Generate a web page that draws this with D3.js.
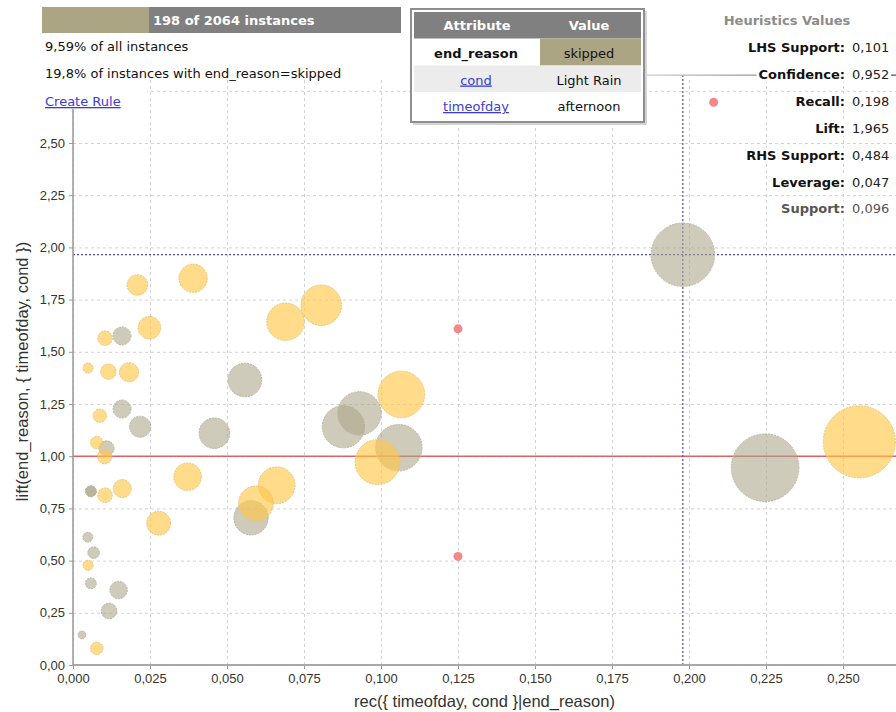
<!DOCTYPE html>
<html>
<head>
<meta charset="utf-8">
<script src="https://cdn.jsdelivr.net/npm/d3@7"></script>
<style>
  body { margin: 0; background: #fff; }
  svg { display: block; font-family: "Liberation Sans", Arial, sans-serif; }
  .ui { font-family: "DejaVu Sans", Verdana, sans-serif; }
  .grid line { stroke: #d2d2d2; stroke-dasharray: 3,3; }
  .grid path { display: none; }
  .axis text { fill: #333; font-size: 13px; }
  .axis line { stroke: #999; }
  .axis path { display: none; }
</style>
</head>
<body>
<svg id="chart" width="896" height="712"></svg>
<script>
// rules shown in yellow
const yellowRecall  = [0.0209, 0.0390, 0.0248, 0.0104, 0.0049, 0.0115, 0.0182, 0.0087, 0.0077, 0.0103, 0.0372, 0.0104,
                       0.0160, 0.0278, 0.0049, 0.0077, 0.0690, 0.0806, 0.1066, 0.0989, 0.0661, 0.0594, 0.2553];
const yellowLift    = [1.820, 1.852, 1.615, 1.565, 1.422, 1.405, 1.402, 1.194, 1.065, 0.998, 0.902, 0.813,
                       0.845, 0.679, 0.477, 0.080, 1.644, 1.723, 1.296, 0.972, 0.861, 0.774, 1.069];
const yellowSupport = [0.0101, 0.0189, 0.0120, 0.0050, 0.0024, 0.0056, 0.0088, 0.0042, 0.0037, 0.0050, 0.0180, 0.0050,
                       0.0077, 0.0135, 0.0024, 0.0037, 0.0334, 0.0390, 0.0516, 0.0479, 0.0320, 0.0287, 0.1236];

// rules shown in grey
const grayRecall  = [0.0159, 0.0159, 0.0218, 0.0109, 0.0058, 0.0058, 0.0048, 0.0067, 0.0058, 0.0148, 0.0117, 0.0029,
                     0.0558, 0.0459, 0.0878, 0.0930, 0.1058, 0.0578, 0.1980, 0.2247];
const grayLift    = [1.576, 1.226, 1.141, 1.038, 0.832, 0.832, 0.612, 0.538, 0.391, 0.359, 0.259, 0.144,
                     1.365, 1.110, 1.141, 1.205, 1.041, 0.705, 1.965, 0.945];
const graySupport = [0.0077, 0.0077, 0.0106, 0.0053, 0.0028, 0.0028, 0.0023, 0.0032, 0.0028, 0.0072, 0.0057, 0.0014,
                     0.0270, 0.0222, 0.0425, 0.0450, 0.0512, 0.0280, 0.0958, 0.1088];

// small red points
const redRecall = [0.125, 0.125, 0.208];
const redLift   = [1.610, 0.520, 2.695];

// selected rule (crosshair)
const selRecall = 0.198;
const selLift = 1.965;

const xTicks = [0, 0.025, 0.05, 0.075, 0.1, 0.125, 0.15, 0.175, 0.2, 0.225, 0.25];
const yTicks = [0, 0.25, 0.5, 0.75, 1, 1.25, 1.5, 1.75, 2, 2.25, 2.5];
const yGridTicks = [0, 0.25, 0.5, 0.75, 1, 1.25, 1.5, 1.75, 2, 2.25, 2.5, 2.75];

const heurLabels = ["LHS Support:", "Confidence:", "Recall:", "Lift:", "RHS Support:", "Leverage:", "Support:"];
const heurValues = ["0,101", "0,952", "0,198", "1,965", "0,484", "0,047", "0,096"];

const tableAttrs = ["end_reason", "cond", "timeofday"];
const tableVals  = ["skipped", "Light Rain", "afternoon"];

const instancesText = "198 of 2064 instances";
const infoLines = ["9,59% of all instances", "19,8% of instances with end_reason=skipped"];

const svg = d3.select("#chart");
const locale = d3.formatLocale({ decimal: ",", thousands: ".", grouping: [3], currency: ["", ""] });

const plotLeft = 73, plotRight = 896, plotTop = 78, plotBottom = 665;

const x = d3.scaleLinear().domain([0, 0.25]).range([plotLeft, 843]);
const y = d3.scaleLinear().domain([0, 2.5]).range([plotBottom, 143]);
const r = d3.scaleSqrt().domain([0, 0.0958]).range([0, 31.7]);

// grid
svg.append("g")
    .attr("class", "grid")
    .attr("transform", `translate(0,${plotBottom})`)
    .call(d3.axisBottom(x).tickValues(xTicks).tickSize(-(plotBottom - plotTop)).tickFormat(""));
svg.append("g")
    .attr("class", "grid")
    .attr("transform", `translate(${plotLeft},0)`)
    .call(d3.axisLeft(y).tickValues(yGridTicks).tickSize(-(plotRight - plotLeft)).tickFormat(""));

// lift = 1 reference line
svg.append("line")
    .attr("x1", plotLeft).attr("x2", plotRight)
    .attr("y1", y(1)).attr("y2", y(1))
    .attr("stroke", "#e06262").attr("stroke-width", 1.5);

// crosshair on selected rule
svg.append("line")
    .attr("x1", x(selRecall)).attr("x2", x(selRecall))
    .attr("y1", 75).attr("y2", plotBottom)
    .attr("stroke", "#4a4aa8").attr("stroke-width", 1.2).attr("stroke-dasharray", "2,2");
svg.append("line")
    .attr("x1", plotLeft).attr("x2", plotRight)
    .attr("y1", y(selLift)).attr("y2", y(selLift))
    .attr("stroke", "#4a4aa8").attr("stroke-width", 1.2).attr("stroke-dasharray", "2,2");

const grayData = grayRecall.map((d, i) => ({ rec: d, lift: grayLift[i], sup: graySupport[i] }));
const yellowData = yellowRecall.map((d, i) => ({ rec: d, lift: yellowLift[i], sup: yellowSupport[i] }));

svg.append("g").selectAll("circle")
    .data(grayData)
    .join("circle")
    .attr("cx", d => x(d.rec))
    .attr("cy", d => y(d.lift))
    .attr("r", d => r(d.sup))
    .attr("fill", "rgb(172,165,136)")
    .attr("fill-opacity", 0.58)
    .attr("stroke", "#b9b5a0")
    .attr("stroke-dasharray", "2,1");

svg.append("g").selectAll("circle")
    .data(yellowData)
    .join("circle")
    .attr("cx", d => x(d.rec))
    .attr("cy", d => y(d.lift))
    .attr("r", d => r(d.sup))
    .attr("fill", "rgb(255,198,72)")
    .attr("fill-opacity", 0.64)
    .attr("stroke", "#e9c57a")
    .attr("stroke-dasharray", "2,1");

svg.append("g").selectAll("circle")
    .data(redRecall)
    .join("circle")
    .attr("cx", d => x(d))
    .attr("cy", (d, i) => y(redLift[i]))
    .attr("r", 4.5)
    .attr("fill", "#f28888");

// axes
svg.append("g")
    .attr("class", "axis")
    .attr("transform", `translate(0,${plotBottom})`)
    .call(d3.axisBottom(x).tickValues(xTicks).tickFormat(locale.format(".3f")).tickSize(4).tickPadding(5));
svg.append("g")
    .attr("class", "axis")
    .attr("transform", `translate(${plotLeft},0)`)
    .call(d3.axisLeft(y).tickValues(yTicks).tickFormat(locale.format(".2f")).tickSize(4).tickPadding(4));

svg.append("line")
    .attr("x1", plotLeft).attr("x2", plotRight)
    .attr("y1", plotBottom).attr("y2", plotBottom)
    .attr("stroke", "#a8a8a8").attr("stroke-width", 2);
svg.append("line")
    .attr("x1", plotLeft).attr("x2", plotLeft)
    .attr("y1", plotTop).attr("y2", plotBottom)
    .attr("stroke", "#999").attr("stroke-width", 1.5);

svg.append("text")
    .attr("x", (plotLeft + plotRight) / 2)
    .attr("y", 707)
    .attr("text-anchor", "middle")
    .attr("fill", "#333")
    .style("font-size", "16.5px")
    .text("rec({ timeofday, cond }|end_reason)");
svg.append("text")
    .attr("transform", `translate(28,${(plotTop + plotBottom) / 2}) rotate(-90)`)
    .attr("text-anchor", "middle")
    .attr("fill", "#333")
    .style("font-size", "16.5px")
    .text("lift(end_reason, { timeofday, cond })");

// white area behind "Create Rule"
svg.append("rect")
    .attr("x", 0).attr("y", plotTop).attr("width", 147).attr("height", 31)
    .attr("fill", "#fff");

// --- info panel (top left)
const info = svg.append("g").attr("class", "ui");
info.append("rect").attr("x", 42).attr("y", 7).attr("width", 359).attr("height", 26).attr("fill", "#808080");
info.append("rect").attr("x", 42).attr("y", 7).attr("width", 107).attr("height", 26).attr("fill", "#aca584");
info.append("text")
    .attr("x", 153).attr("y", 25)
    .attr("fill", "#fff").style("font-size", "13px").style("font-weight", "bold")
    .text(instancesText);
info.selectAll("text.line")
    .data(infoLines)
    .join("text")
    .attr("class", "line")
    .attr("x", 45)
    .attr("y", (d, i) => 51 + i * 27)
    .attr("fill", "#111")
    .style("font-size", "13px")
    .text(d => d);
info.append("text")
    .attr("x", 45).attr("y", 106)
    .attr("fill", "#3c3cd2")
    .style("font-size", "13px")
    .style("text-decoration", "underline")
    .text("Create Rule");

// --- connector line from table to the heuristics
const grad = svg.append("defs").append("linearGradient").attr("id", "conn");
grad.append("stop").attr("offset", "0%").attr("stop-color", "#cfcfcf");
grad.append("stop").attr("offset", "100%").attr("stop-color", "#555");
svg.append("rect")
    .attr("x", 645).attr("y", 74.5).attr("width", 251).attr("height", 1.3)
    .attr("fill", "url(#conn)");

// --- attribute table
const tbl = svg.append("g").attr("class", "ui");
tbl.append("rect").attr("x", 413).attr("y", 11).attr("width", 234).attr("height", 114).attr("fill", "#d4d4d4");
tbl.append("rect").attr("x", 411).attr("y", 9).attr("width", 233).attr("height", 113)
    .attr("fill", "#fff").attr("stroke", "#8f8f8f").attr("stroke-width", 2);
tbl.append("rect").attr("x", 414).attr("y", 12).attr("width", 227).attr("height", 26.5).attr("fill", "#808080");
const rowY = [38.5, 65.5, 92];
const rowH = [27, 26.5, 27];
tbl.append("rect").attr("x", 540).attr("y", rowY[0]).attr("width", 101).attr("height", rowH[0]).attr("fill", "#aca584");
tbl.append("rect").attr("x", 414).attr("y", rowY[1]).attr("width", 227).attr("height", rowH[1]).attr("fill", "#ececec");
tbl.append("text").attr("x", 477).attr("y", 30).attr("text-anchor", "middle")
    .attr("fill", "#fff").style("font-size", "13px").style("font-weight", "bold").text("Attribute");
tbl.append("text").attr("x", 589).attr("y", 30).attr("text-anchor", "middle")
    .attr("fill", "#fff").style("font-size", "13px").style("font-weight", "bold").text("Value");
tableAttrs.forEach((a, i) => {
    const t = tbl.append("text")
        .attr("x", 476).attr("y", rowY[i] + 19)
        .attr("text-anchor", "middle")
        .style("font-size", "13px")
        .text(a);
    if (i === 0) t.attr("fill", "#111").style("font-weight", "bold");
    else t.attr("fill", "#3c3cd2").style("text-decoration", "underline");
    tbl.append("text")
        .attr("x", 589).attr("y", rowY[i] + 19)
        .attr("text-anchor", "middle")
        .attr("fill", "#111")
        .style("font-size", "13px")
        .text(tableVals[i]);
});

// --- heuristics panel
const heur = svg.append("g").attr("class", "ui");
heur.append("text")
    .attr("x", 787).attr("y", 25)
    .attr("text-anchor", "middle")
    .attr("fill", "#8c8c8c")
    .style("font-size", "13px").style("font-weight", "bold")
    .text("Heuristics Values");
heurLabels.forEach((lab, i) => {
    const yy = 52 + i * 26.9;
    const g = heur.append("g");
    const l = g.append("text")
        .attr("x", 845).attr("y", yy)
        .attr("text-anchor", "end")
        .attr("fill", i === 6 ? "#555" : "#111")
        .style("font-size", "13px").style("font-weight", "bold")
        .text(lab);
    const v = g.append("text")
        .attr("x", 852).attr("y", yy)
        .attr("fill", i === 6 ? "#555" : "#222")
        .style("font-size", "13px")
        .text(heurValues[i]);
    const b1 = l.node().getBBox(), b2 = v.node().getBBox();
    g.insert("rect", "text")
        .attr("x", b1.x - 2).attr("y", b1.y)
        .attr("width", b2.x + b2.width - b1.x + 4).attr("height", b1.height)
        .attr("fill", "#fff");
});
</script>
</body>
</html>
